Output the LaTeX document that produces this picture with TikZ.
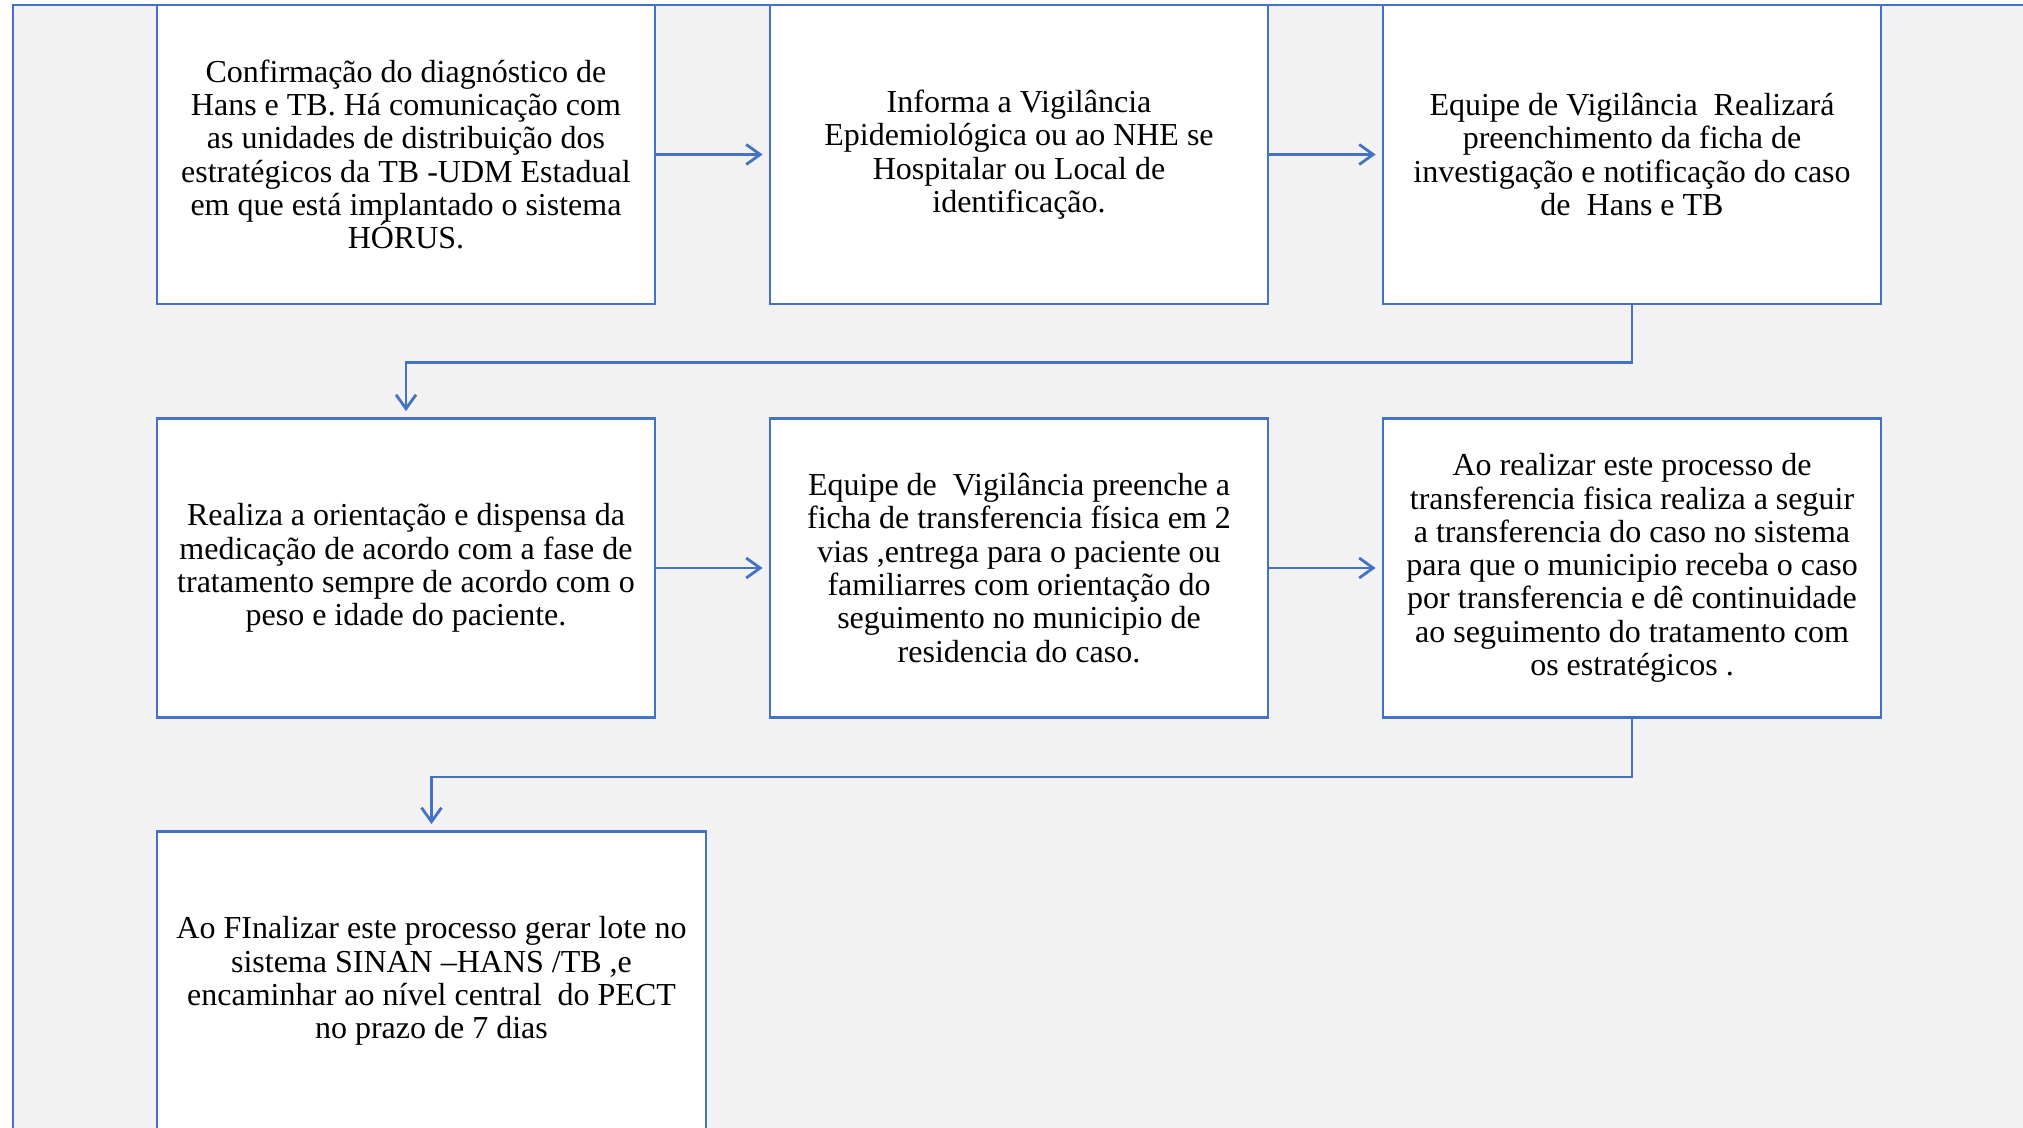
\documentclass[tikz,border=0pt]{standalone}
\usepackage{fontspec}
\setmainfont{Liberation Serif}
\usetikzlibrary{arrows.meta}
\definecolor{ob}{HTML}{4472C4}
\definecolor{bgray}{HTML}{F2F2F2}
\newcommand\myboxfont{\fontsize{16}{16.65}\selectfont\setlength{\lineskiplimit}{-20pt}\setlength{\lineskip}{0pt}}
\begin{document}
\begin{tikzpicture}[x=0.5pt,y=-0.5pt,
  box/.style={draw=ob, line width=1.4pt, fill=white, minimum width=249pt, minimum height=149.5pt,
    align=center, inner sep=0pt, font=\myboxfont},
  conn/.style={draw=ob, line width=1.4pt, -{Straight Barb[length=7pt,width=10pt]}, shorten >=3pt}]
\useasboundingbox (0,0) rectangle (2023,1128);
\clip (0,0) rectangle (2023,1128);
\fill[bgray] (13,5) rectangle (2030,1140);
\draw[ob, line width=1.4pt] (13,1140) -- (13,5) -- (2030,5);

\node[box] (b1) at (406,154.5) {Confirmação do diagnóstico de\\Hans e TB. Há comunicação com\\as unidades de distribuição dos\\estratégicos da TB -UDM Estadual\\em que está implantado o sistema\\HÓRUS.};
\node[box] (b2) at (1019,154.5) {Informa a Vigilância\\Epidemiológica ou ao NHE se\\Hospitalar ou Local de\\identificação.};
\node[box] (b3) at (1632,154.5) {Equipe de Vigilância\ \ Realizará\\preenchimento da ficha de\\investigação e notificação do caso\\de\ \ Hans e TB};

\node[box] (b4) at (406,568) {Realiza a orientação e dispensa da\\medicação de acordo com a fase de\\tratamento sempre de acordo com o\\peso e idade do paciente.};
\node[box] (b5) at (1019,568) {Equipe de\ \ Vigilância preenche a\\ficha de transferencia física em 2\\vias ,entrega para o paciente ou\\familiarres com orientação do\\seguimento no municipio de\\residencia do caso.};
\node[box] (b6) at (1632,568) {Ao realizar este processo de\\transferencia fisica realiza a seguir\\a transferencia do caso no sistema\\para que o municipio receba o caso\\por transferencia e dê continuidade\\ao seguimento do tratamento com\\os estratégicos .};

\node[box, minimum width=274.5pt] (b7) at (431.5,981) {Ao FInalizar este processo gerar lote no\\sistema SINAN –HANS /TB ,e\\encaminhar ao nível central\ \ do PECT\\no prazo de 7 dias};

\draw[conn] (b1.east) -- (b2.west);
\draw[conn] (b2.east) -- (b3.west);
\draw[conn] (b4.east) -- (b5.west);
\draw[conn] (b5.east) -- (b6.west);
\draw[conn] (b3.south) -- ++(0,57) -| (b4.north);
\draw[conn] (b6.south) -- ++(0,58) -| (b7.north);
\end{tikzpicture}
\end{document}
